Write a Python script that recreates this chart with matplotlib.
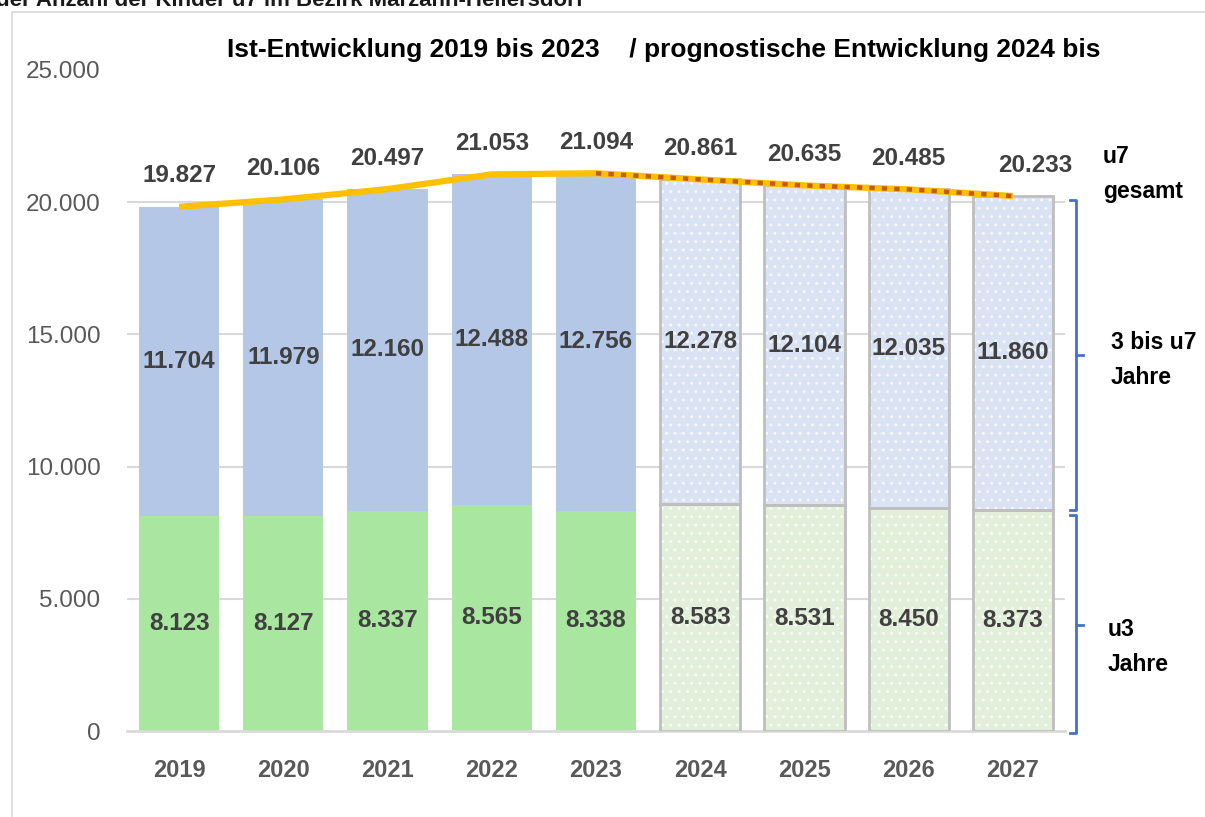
import matplotlib
matplotlib.use("Agg")
import matplotlib.pyplot as plt
from matplotlib.patches import Rectangle
from matplotlib.lines import Line2D

years = ["2019", "2020", "2021", "2022", "2023", "2024", "2025", "2026", "2027"]
u3 = [8123, 8127, 8337, 8565, 8338, 8583, 8531, 8450, 8373]
u3_7 = [11704, 11979, 12160, 12488, 12756, 12278, 12104, 12035, 11860]
total = [19827, 20106, 20497, 21053, 21094, 20861, 20635, 20485, 20233]
forecast = [False, False, False, False, False, True, True, True, True]
yticks = [0, 5000, 10000, 15000, 20000, 25000]

def fmt(v):
    return f"{v:,}".replace(",", ".")

FONT = "Liberation Sans"
plt.rcParams["font.family"] = [FONT, "DejaVu Sans"]
plt.rcParams["hatch.linewidth"] = 1.0

fig = plt.figure(figsize=(12.05, 8.17), dpi=100)
W, H = 1205, 817
ax = fig.add_axes([127 / W, 1 - 731 / H, 938 / W, 661 / H])

# outer frame
fig.patches.append(Rectangle((12 / W, -0.05), 1.2, 1 - 12 / H + 0.05, transform=fig.transFigure,
                             fill=False, edgecolor="#d9d9d9", linewidth=1.2))
fig.text(-0.003, 1 - 1 / H, "der Anzahl der Kinder u7 im Bezirk Marzahn-Hellersdorf", ha="left",
         va="center", fontsize=16, fontweight="bold", color="#1a1a1a")

x = list(range(len(years)))
bw = 0.77
green, blue = "#a9e6a0", "#b4c7e7"
lgreen, lblue = "#e2efda", "#dae3f3"

for gv in yticks[1:-1]:
    ax.axhline(gv, color="#d9d9d9", linewidth=1.5, zorder=0)

for i in x:
    if not forecast[i]:
        ax.bar(i, u3[i], bw, color=green, linewidth=0, zorder=2)
        ax.bar(i, u3_7[i], bw, bottom=u3[i], color=blue, linewidth=0, zorder=2)
    else:
        ax.bar(i, u3[i], bw, color=lgreen, hatch="..", edgecolor="#f8fbf6", linewidth=0, zorder=2)
        ax.bar(i, u3_7[i], bw, bottom=u3[i], color=lblue, hatch="..", edgecolor="#f6f8fc", linewidth=0, zorder=2)
        ax.bar(i, u3[i], bw, fill=False, edgecolor="#bfbfbf", linewidth=2, zorder=3)
        ax.bar(i, u3_7[i], bw, bottom=u3[i], fill=False, edgecolor="#bfbfbf", linewidth=2, zorder=3)

lab = "#404040"
for i in x:
    ax.text(i, u3[i] / 2, fmt(u3[i]), ha="center", va="center", fontsize=17.5, fontweight="bold", color=lab, zorder=5)
    ax.text(i, u3[i] + u3_7[i] / 2, fmt(u3_7[i]), ha="center", va="center", fontsize=17.5, fontweight="bold",
            color=lab, zorder=5)
    dx = 16 if i == len(years) - 1 else 0
    ax.annotate(fmt(total[i]), (i, total[i]), xytext=(dx, 14), textcoords="offset points", ha="center",
                va="bottom", fontsize=17.5, fontweight="bold", color=lab, zorder=5)

ax.plot(x, total, color="#ffc000", linewidth=4.5, solid_capstyle="butt", zorder=6)
fx = [i for i in x if i >= 4]
ax.plot(fx, [total[i] for i in fx], color="#c55a11", linewidth=3.2, dashes=(1.2, 1.6),
        dash_capstyle="butt", zorder=7)

ax.set_xlim(-0.5, len(years) - 0.5)
ax.set_ylim(0, 25000)
ax.set_yticks(yticks)
ax.set_yticklabels([fmt(v) for v in yticks], fontsize=17.5, color="#595959")
ax.set_xticks(x)
ax.set_xticklabels(years, fontsize=17, fontweight="bold", color="#595959")
ax.tick_params(axis="both", length=0)
ax.tick_params(axis="y", pad=19)
ax.tick_params(axis="x", pad=20)
for s in ["top", "right", "left"]:
    ax.spines[s].set_visible(False)
ax.spines["bottom"].set_color("#d9d9d9")
ax.spines["bottom"].set_linewidth(2)
ax.patch.set_visible(False)

fig.text(664 / W, 1 - 50 / H, "Ist-Entwicklung 2019 bis 2023    / prognostische Entwicklung 2024 bis",
         ha="center", va="center", fontsize=19, fontweight="bold", color="#000000")

# right-side brackets
bc = "#4472c4"
def bracket(top_px, bot_px, mid_px):
    xs = 1076 / W
    t, b, m = 1 - top_px / H, 1 - bot_px / H, 1 - mid_px / H
    fig.add_artist(Line2D([1070 / W, xs, xs, 1070 / W], [t, t, b, b], color=bc, linewidth=2,
                          transform=fig.transFigure))
    fig.add_artist(Line2D([xs, 1083 / W], [m, m], color=bc, linewidth=2, transform=fig.transFigure))

bracket(200, 510, 355)
bracket(515, 733, 625)

kw = dict(ha="left", va="center", fontsize=16.5, fontweight="bold", linespacing=1.7, color="#000000")
fig.text(1103 / W, 1 - 174 / H, "u7\ngesamt", **kw)
fig.text(1111 / W, 1 - 360 / H, "3 bis u7\nJahre", **kw)
fig.text(1108 / W, 1 - 647 / H, "u3\nJahre", **kw)

fig.savefig("out.png", dpi=100)
